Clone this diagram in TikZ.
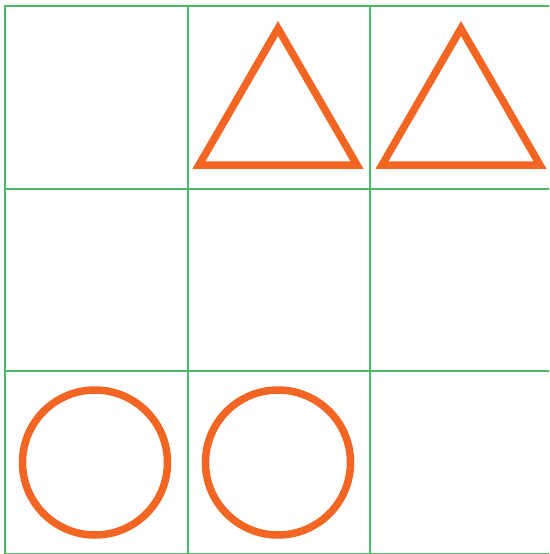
\documentclass[tikz,border=0pt]{standalone}
\definecolor{gridgreen}{HTML}{4DB866}
\definecolor{shapeorange}{HTML}{F26522}
\tikzset{
  gridline/.style={draw=gridgreen, line width=2pt, line cap=rect},
  shapeline/.style={draw=shapeorange, line width=7.5pt, line join=miter},
}
\begin{document}
\begin{tikzpicture}[x=1pt,y=-1pt]
\useasboundingbox (0,0) rectangle (549,554);
\fill[white] (0,0) rectangle (549,554);
\begin{scope}
\clip (0,0) rectangle (549,554);
% grid
\foreach \gx in {5,187.5,370,552.5} \draw[gridline] (\gx,5.5) -- (\gx,553.5);
\foreach \gy in {5.5,188.5,371,553.5} \draw[gridline] (5,\gy) -- (552.5,\gy);
% triangles
\draw[shapeline] (278,28.5) -- (357,165) -- (199,165) -- cycle;
\draw[shapeline] (461,28.5) -- (540,165) -- (382,165) -- cycle;
% circles
\draw[shapeline] (95,462.5) circle[radius=72.5];
\draw[shapeline] (278,462.5) circle[radius=72.5];
\end{scope}
\end{tikzpicture}
\end{document}
